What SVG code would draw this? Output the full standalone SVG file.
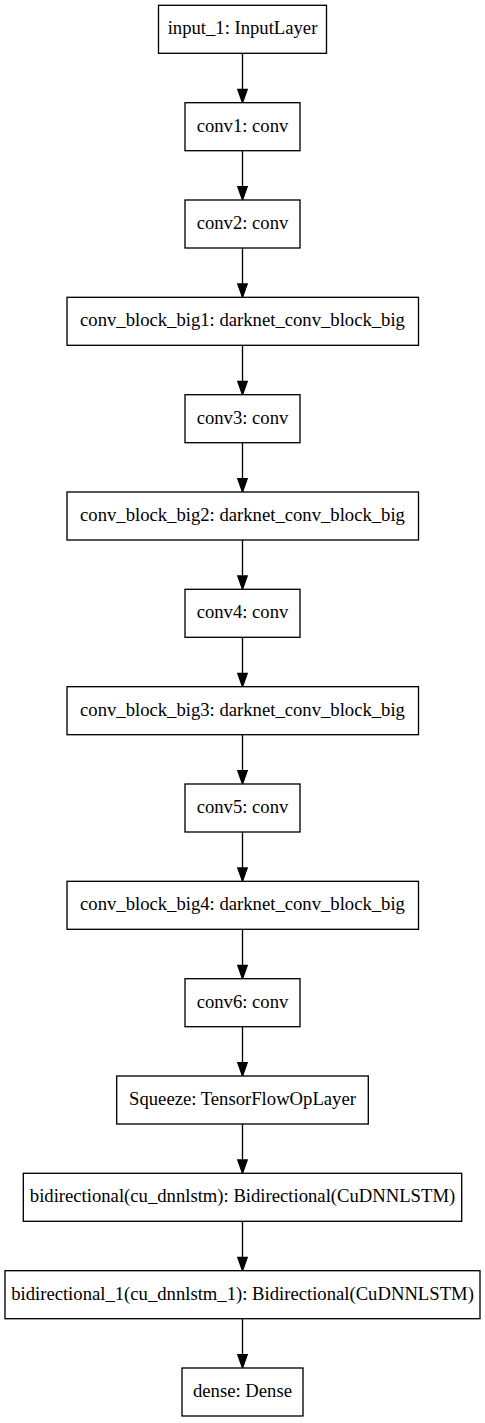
<svg xmlns="http://www.w3.org/2000/svg" width="485" height="1423" viewBox="0 0 485 1423">
<style>
.n rect{fill:#fff;stroke:#000;stroke-width:1.33}
.n text{font-size:18.67px;text-anchor:middle;fill:#000}
.e line{stroke:#000;stroke-width:1.33}
.e polygon{fill:#000;stroke:#000;stroke-width:1.33}
</style>
<rect width="485" height="1423" fill="#fff"/>
<g class="e" id="connectors">
<line x1="242.5" y1="53.3" x2="242.5" y2="89.3"/><polygon points="237.8,89.3 247.2,89.3 242.5,102.7"/>
<line x1="242.5" y1="150.7" x2="242.5" y2="186.7"/><polygon points="237.8,186.7 247.2,186.7 242.5,200"/>
<line x1="242.5" y1="248" x2="242.5" y2="284"/><polygon points="237.8,284 247.2,284 242.5,297.3"/>
<line x1="242.5" y1="345.3" x2="242.5" y2="381.3"/><polygon points="237.8,381.3 247.2,381.3 242.5,394.7"/>
<line x1="242.5" y1="442.7" x2="242.5" y2="478.7"/><polygon points="237.8,478.7 247.2,478.7 242.5,492"/>
<line x1="242.5" y1="540" x2="242.5" y2="576"/><polygon points="237.8,576 247.2,576 242.5,589.3"/>
<line x1="242.5" y1="637.3" x2="242.5" y2="673.3"/><polygon points="237.8,673.3 247.2,673.3 242.5,686.7"/>
<line x1="242.5" y1="734.7" x2="242.5" y2="770.7"/><polygon points="237.8,770.7 247.2,770.7 242.5,784"/>
<line x1="242.5" y1="832" x2="242.5" y2="868"/><polygon points="237.8,868 247.2,868 242.5,881.3"/>
<line x1="242.5" y1="929.3" x2="242.5" y2="965.3"/><polygon points="237.8,965.3 247.2,965.3 242.5,978.7"/>
<line x1="242.5" y1="1026.7" x2="242.5" y2="1062.7"/><polygon points="237.8,1062.7 247.2,1062.7 242.5,1076"/>
<line x1="242.5" y1="1124" x2="242.5" y2="1160"/><polygon points="237.8,1160 247.2,1160 242.5,1173.3"/>
<line x1="242.5" y1="1221.3" x2="242.5" y2="1257.3"/><polygon points="237.8,1257.3 247.2,1257.3 242.5,1270.7"/>
<line x1="242.5" y1="1318.7" x2="242.5" y2="1354.7"/><polygon points="237.8,1354.7 247.2,1354.7 242.5,1368"/>
</g>
<g class="n" font-family="Liberation Serif, Times New Roman, DejaVu Serif, serif">
<g id="input_1"><rect x="158.5" y="5.3" width="168" height="48"/><text x="242.5" y="34.3">input_1: InputLayer</text></g>
<g id="conv1"><rect x="185" y="102.7" width="115" height="48"/><text x="242.5" y="131.7">conv1: conv</text></g>
<g id="conv2"><rect x="185" y="200" width="115" height="48"/><text x="242.5" y="229">conv2: conv</text></g>
<g id="conv_block_big1"><rect x="67" y="297.3" width="351.5" height="48"/><text x="242.5" y="326.3">conv_block_big1: darknet_conv_block_big</text></g>
<g id="conv3"><rect x="185" y="394.7" width="115" height="48"/><text x="242.5" y="423.7">conv3: conv</text></g>
<g id="conv_block_big2"><rect x="67" y="492" width="351.5" height="48"/><text x="242.5" y="521">conv_block_big2: darknet_conv_block_big</text></g>
<g id="conv4"><rect x="185" y="589.3" width="115" height="48"/><text x="242.5" y="618.3">conv4: conv</text></g>
<g id="conv_block_big3"><rect x="67" y="686.7" width="351.5" height="48"/><text x="242.5" y="715.7">conv_block_big3: darknet_conv_block_big</text></g>
<g id="conv5"><rect x="185" y="784" width="115" height="48"/><text x="242.5" y="813">conv5: conv</text></g>
<g id="conv_block_big4"><rect x="67" y="881.3" width="351.5" height="48"/><text x="242.5" y="910.3">conv_block_big4: darknet_conv_block_big</text></g>
<g id="conv6"><rect x="185" y="978.7" width="115" height="48"/><text x="242.5" y="1007.7">conv6: conv</text></g>
<g id="squeeze"><rect x="116.7" y="1076" width="251.6" height="48"/><text x="242.5" y="1105">Squeeze: TensorFlowOpLayer</text></g>
<g id="bidirectional"><rect x="23.3" y="1173.3" width="438.4" height="48"/><text x="242.5" y="1202.3">bidirectional(cu_dnnlstm): Bidirectional(CuDNNLSTM)</text></g>
<g id="bidirectional_1"><rect x="5" y="1270.7" width="475" height="48"/><text x="242.5" y="1299.7">bidirectional_1(cu_dnnlstm_1): Bidirectional(CuDNNLSTM)</text></g>
<g id="dense"><rect x="182" y="1368" width="121" height="48"/><text x="242.5" y="1397">dense: Dense</text></g>
</g>
</svg>
